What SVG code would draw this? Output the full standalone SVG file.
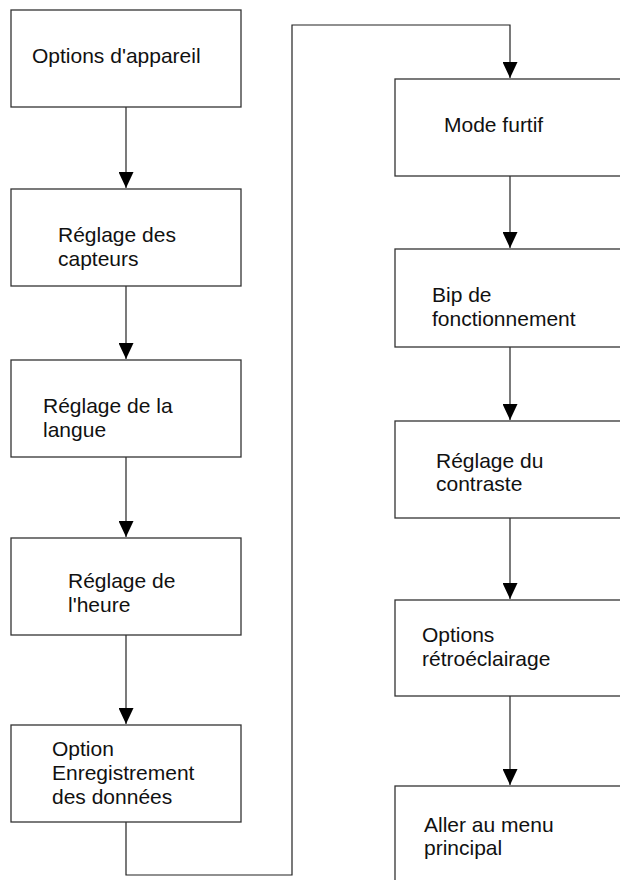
<svg xmlns="http://www.w3.org/2000/svg" width="620" height="880" viewBox="0 0 620 880">
<style>
.box{fill:#fff;stroke:#333;stroke-width:1.3}
.t{font-family:"Liberation Sans",Arial,sans-serif;font-size:21px;fill:#111}
.c{fill:none;stroke:#222;stroke-width:1.2;marker-end:url(#ah)}
</style>
<defs>
<marker id="ah" markerWidth="16" markerHeight="15" refX="16" refY="7.5" orient="auto" markerUnits="userSpaceOnUse" viewBox="0 0 16 15">
<path d="M0,0 L16,7.5 L0,15 Z" fill="#000"/>
</marker>
</defs>
<rect width="620" height="880" fill="#fff"/>
<g id="connectors">
<path class="c" d="M126,107 V188"/>
<path class="c" d="M126,286 V359"/>
<path class="c" d="M126,457 V537"/>
<path class="c" d="M126,635 V724"/>
<path class="c" d="M126,822 V875 H292 V25 H510 V78"/>
<path class="c" d="M510,176 V248"/>
<path class="c" d="M510,347 V420"/>
<path class="c" d="M510,518 V599"/>
<path class="c" d="M510,696 V785"/>
</g>
<g id="n1"><rect class="box" x="11" y="10" width="230" height="97"/><text class="t" x="32" y="63">Options d'appareil</text></g>
<g id="n2"><rect class="box" x="11" y="189" width="230" height="97"/><text class="t" x="58" y="242">Réglage des</text><text class="t" x="58" y="266">capteurs</text></g>
<g id="n3"><rect class="box" x="11" y="360" width="230" height="97"/><text class="t" x="43" y="413">Réglage de la</text><text class="t" x="43" y="437">langue</text></g>
<g id="n4"><rect class="box" x="11" y="538" width="230" height="97"/><text class="t" x="68" y="588">Réglage de</text><text class="t" x="68" y="612">l'heure</text></g>
<g id="n5"><rect class="box" x="11" y="725" width="230" height="97"/><text class="t" x="52" y="756">Option</text><text class="t" x="52" y="780">Enregistrement</text><text class="t" x="52" y="804">des données</text></g>
<g id="n6"><rect class="box" x="395" y="79" width="240" height="97"/><text class="t" x="444" y="132">Mode furtif</text></g>
<g id="n7"><rect class="box" x="395" y="249" width="240" height="98"/><text class="t" x="432" y="302">Bip de</text><text class="t" x="432" y="326">fonctionnement</text></g>
<g id="n8"><rect class="box" x="395" y="421" width="240" height="97"/><text class="t" x="436" y="468">Réglage du</text><text class="t" x="436" y="491">contraste</text></g>
<g id="n9"><rect class="box" x="395" y="600" width="240" height="96"/><text class="t" x="422" y="642">Options</text><text class="t" x="422" y="666">rétroéclairage</text></g>
<g id="n10"><rect class="box" x="395" y="786" width="240" height="110"/><text class="t" x="424" y="832">Aller au menu</text><text class="t" x="424" y="855">principal</text></g>
</svg>
